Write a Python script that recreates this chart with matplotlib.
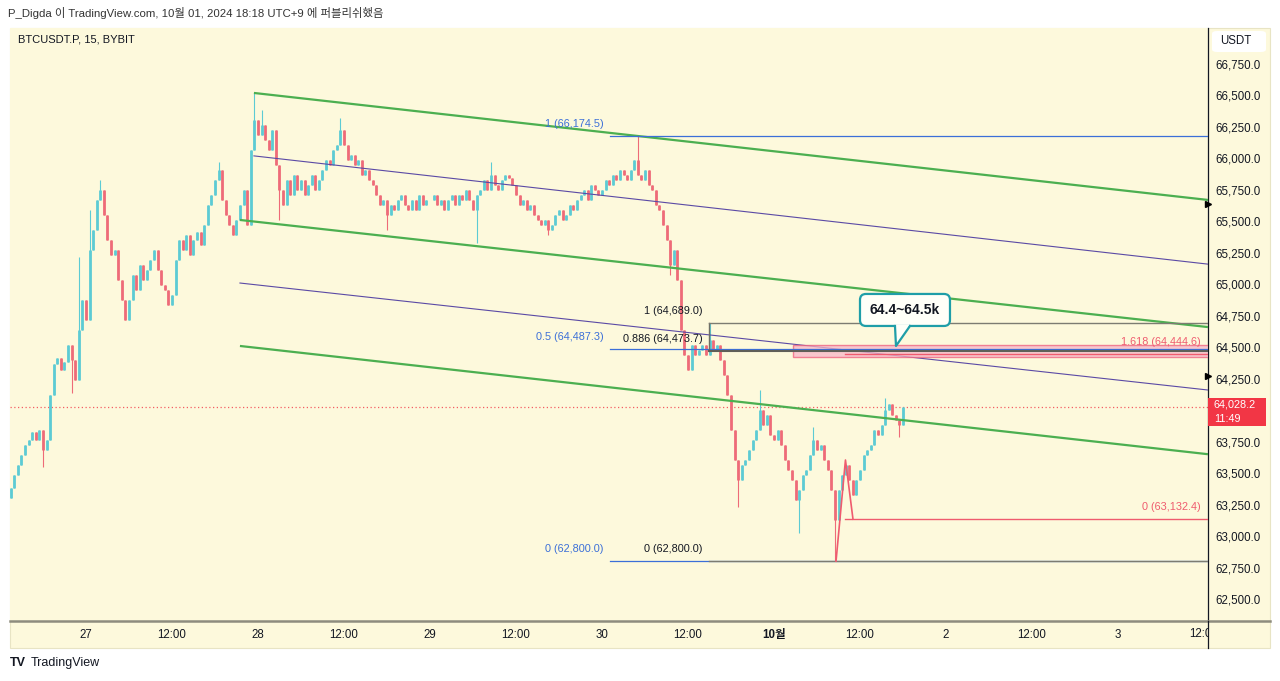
import matplotlib
matplotlib.use("Agg")
import matplotlib.pyplot as plt
import matplotlib.dates as mdates
from matplotlib.patches import Rectangle, FancyBboxPatch, Polygon
from matplotlib.transforms import IdentityTransform
from matplotlib.lines import Line2D
import numpy as np
import pandas as pd

W, H = 1280, 681
plt.rcParams["font.family"] = ["Liberation Sans", "Noto Sans CJK KR", "DejaVu Sans"]

CREAM = "#fdf9dc"
TEXT = "#131722"
UP = "#5ccbd4"
DOWN = "#ee6b78"

header = "P_Digda 이 TradingView.com, 10월 01, 2024 18:18 UTC+9 에 퍼블리쉬했음"
symbol = "BTCUSDT.P, 15, BYBIT"

# ---- price bars (30 min steps) ----
bar_start = "2024-09-26 13:30"
first_open = 63300
close_sep26 = [63380, 63485, 63565, 63645, 63725, 63765, 63825, 63765, 63845, 63685,
               63765, 64120, 64365, 64415, 64320, 64385, 64520, 64400, 64240, 64635,
               64875]
close_sep27 = [64715, 65270, 65430, 65670, 65750, 65550, 65350, 65235, 65270, 65035,
               64875, 64715, 64875, 65075, 64955, 65155, 65035, 65115, 65195, 65270,
               65115, 64995, 64955, 64835, 64915, 65195, 65350, 65270, 65390, 65235,
               65350, 65415, 65310, 65470, 65630, 65710, 65830, 65910, 65670, 65550,
               65470, 65390, 65510, 65630, 65750, 65470, 66065, 66305]
close_sep28 = [66185, 66265, 66145, 66065, 66225, 65950, 65750, 65630, 65830, 65710,
               65870, 65750, 65830, 65710, 65790, 65870, 65750, 65830, 65910, 65990,
               65950, 66065, 66105, 66225, 66105, 65990, 66025, 65950, 65990, 65870,
               65910, 65830, 65790, 65710, 65630, 65670, 65550, 65630, 65590, 65670,
               65710, 65630, 65590, 65670, 65590, 65710, 65630, 65670]
close_sep29 = [65670, 65710, 65630, 65670, 65590, 65670, 65710, 65630, 65710, 65670,
               65750, 65670, 65590, 65710, 65750, 65830, 65750, 65870, 65790, 65750,
               65830, 65870, 65845, 65790, 65710, 65630, 65670, 65590, 65630, 65550,
               65510, 65470, 65510, 65430, 65470, 65550, 65590, 65510, 65550, 65630,
               65590, 65670, 65710, 65750, 65670, 65790, 65750, 65710]
close_sep30 = [65750, 65830, 65790, 65870, 65830, 65910, 65870, 65830, 65910, 65990,
               65870, 65830, 65910, 65790, 65750, 65630, 65590, 65470, 65350, 65155,
               65270, 65035, 64635, 64440, 64320, 64520, 64440, 64480, 64520, 64440,
               64555, 64480, 64520, 64400, 64280, 64120, 63845, 63605, 63445, 63565,
               63605, 63685, 63765, 63845, 64000, 63880, 63960, 63805]
close_oct01 = [63765, 63845, 63725, 63605, 63525, 63445, 63285, 63365, 63485, 63525,
               63645, 63765, 63685, 63725, 63605, 63525, 63365, 63125, 63365, 63485,
               63565, 63445, 63325, 63445, 63525, 63645, 63685, 63725, 63845, 63805,
               63880, 64000, 64050, 63960, 63920, 63880, 64028.2]

wick_times = ["2024-09-26 18:00", "2024-09-26 22:00", "2024-09-26 23:00", "2024-09-27 00:30",
              "2024-09-27 02:00", "2024-09-27 18:30", "2024-09-27 23:30", "2024-09-28 00:30",
              "2024-09-28 03:00", "2024-09-28 11:30", "2024-09-28 18:00", "2024-09-29 06:30",
              "2024-09-29 08:30", "2024-09-29 16:30", "2024-09-30 05:00", "2024-09-30 09:30",
              "2024-09-30 15:00", "2024-09-30 19:00", "2024-09-30 22:00", "2024-10-01 03:30",
              "2024-10-01 05:30", "2024-10-01 08:30", "2024-10-01 15:30", "2024-10-01 17:30"]
wick_prices = [63548, 64137, 65217, 65590, 65829, 65971, 66520, 66385,
               65511, 66321, 65431, 65328, 65971, 65391, 66174.5, 65074,
               64689, 63231, 64160, 63022, 63866, 62800, 64097, 63787]

last_price = 64028.2
countdown = "11:49"

# ---- drawings ----
view_start, view_end = "2024-09-26 13:24", "2024-10-03 12:33"
price_lo, price_hi = 62325, 67036

green_starts = ["2024-09-27 23:26", "2024-09-27 21:29", "2024-09-27 21:29"]
green_start_prices = [66520, 65511, 64510]
green_end_prices = [65670, 64660, 63650]
purple_starts = ["2024-09-27 23:26", "2024-09-27 21:29"]
purple_start_prices = [66020, 65010]
purple_end_prices = [65160, 64160]

blue_fib_start = "2024-09-30 01:07"
blue_levels = ["1", "0.5", "0"]
blue_prices = [66174.5, 64487.3, 62800.0]
gray_fib_start = "2024-09-30 14:56"
gray_levels = ["1", "0.886", "0"]
gray_prices = [64689.0, 64473.7, 62800.0]
red_fib_start = "2024-10-01 09:54"
red_levels = ["1.618", "0"]
red_prices = [64444.6, 63132.4]

zone_start = "2024-10-01 02:39"
zone_low, zone_high = 64420, 64515
zigzag_times = ["2024-10-01 08:39", "2024-10-01 09:58", "2024-10-01 11:01"]
zigzag_prices = [62800, 63604, 63134]

callout_text = "64.4~64.5k"
callout_time, callout_price = "2024-10-01 17:01", 64510

axis_marker_prices = [65640, 64270]

y_ticks = [62500, 62750, 63000, 63250, 63500, 63750, 64000, 64250, 64500,
           64750, 65000, 65250, 65500, 65750, 66000, 66250, 66500, 66750]
hidden_y_tick = 64000  # covered by the last-price label
x_tick_times = ["2024-09-27 00:00", "2024-09-27 12:00", "2024-09-28 00:00", "2024-09-28 12:00",
                "2024-09-29 00:00", "2024-09-29 12:00", "2024-09-30 00:00", "2024-09-30 12:00",
                "2024-10-01 00:00", "2024-10-01 12:00", "2024-10-02 00:00", "2024-10-02 12:00",
                "2024-10-03 00:00"]
x_tick_labels = ["27", "12:00", "28", "12:00", "29", "12:00", "30", "12:00",
                 "10월", "12:00", "2", "12:00", "3"]
clipped_tick_time, clipped_tick_label = "2024-10-03 12:00", "12:00"


def tnum(s):
    return mdates.date2num(pd.Timestamp(s))


def px_rect(x0, y0, x1, y1):
    return [x0 / W, 1 - y1 / H, (x1 - x0) / W, (y1 - y0) / H]


fig = plt.figure(figsize=(W / 100, H / 100), dpi=100)
fig.patch.set_facecolor("white")

# chart panel background (incl. price / time scales)
fig.add_artist(Rectangle((10 / W, 1 - 648 / H), 1260 / W, 620 / H, transform=fig.transFigure,
                         facecolor=CREAM, edgecolor="#e8e4c4", lw=0.8, zorder=0))

ax = fig.add_axes(px_rect(10, 28, 1208, 621))
ax.set_facecolor(CREAM)
ax.set_xlim(tnum(view_start), tnum(view_end))
ax.set_ylim(price_lo, price_hi)

# bars
closes = np.array(close_sep26 + close_sep27 + close_sep28 + close_sep29 + close_sep30 + close_oct01, float)
times = pd.date_range(bar_start, periods=len(closes), freq="30min")
opens = np.concatenate([[first_open], closes[:-1]])
highs = np.maximum(opens, closes)
lows = np.minimum(opens, closes)
for t, p in zip(wick_times, wick_prices):
    i = times.get_loc(pd.Timestamp(t))
    highs[i] = max(highs[i], p)
    lows[i] = min(lows[i], p)
xs = mdates.date2num(times)
cols = [UP if c >= o else DOWN for o, c in zip(opens, closes)]
ax.vlines(xs, lows, highs, colors=cols, lw=0.8, zorder=3)
ax.vlines(xs, opens, closes, colors=cols, lw=2.0, zorder=3)

# last price dotted line
ax.axhline(last_price, color="#f23645", lw=0.9, ls=(0, (1, 2)), alpha=0.8, zorder=2)

# channels
xe = tnum(view_end) + 1
for s, p0, p1 in zip(green_starts, green_start_prices, green_end_prices):
    ax.plot([tnum(s), tnum(view_end)], [p0, p1], color="#4caf50", lw=1.6, zorder=4, solid_capstyle="butt")
for s, p0, p1 in zip(purple_starts, purple_start_prices, purple_end_prices):
    ax.plot([tnum(s), tnum(view_end)], [p0, p1], color="#5b4aa5", lw=0.8, zorder=4)

# zone
zx = tnum(zone_start)
ax.add_patch(Rectangle((zx, zone_low), xe - zx, zone_high - zone_low, facecolor="#f7b7c8",
                       edgecolor="#ee5f7c", lw=1.0, alpha=0.75, zorder=4))

# fib: blue
bx = tnum(blue_fib_start)
for lv, p in zip(blue_levels, blue_prices):
    ax.plot([bx, xe], [p, p], color="#3b6fd8", lw=0.9, zorder=5)
    ax.annotate(f"{lv} ({p:,.1f})", (bx, p), xytext=(-4.5, 5), textcoords="offset points",
                ha="right", va="bottom", fontsize=7.8, color="#3b6fd8", zorder=6)

# fib: gray
gx = tnum(gray_fib_start)
ax.plot([gx, gx], [gray_prices[1], gray_prices[0]], color="#6f6f66", lw=1.0, zorder=5)
for k, (lv, p) in enumerate(zip(gray_levels, gray_prices)):
    ax.plot([gx, xe], [p, p], color="#5f5f58" if k == 1 else "#7c7c72", lw=1.5 if k == 1 else 1.0, zorder=5)
    ax.annotate(f"{lv} ({p:,.1f})", (gx, p), xytext=(-4.5, 5), textcoords="offset points",
                ha="right", va="bottom", fontsize=7.8, color=TEXT, zorder=6)

# fib: red
rx = tnum(red_fib_start)
for lv, p in zip(red_levels, red_prices):
    ax.plot([rx, xe], [p, p], color="#ef5b6e", lw=1.0, zorder=5)
    ax.annotate(f"{lv} ({p:,.1f})", (tnum(view_end), p), xytext=(-5, 5), textcoords="offset points",
                ha="right", va="bottom", fontsize=7.8, color="#ef5b6e", zorder=6)

ax.plot([tnum(t) for t in zigzag_times], zigzag_prices, color="#ef5b6e", lw=1.2, zorder=5)

# axes styling
for side in ("top", "left", "bottom"):
    ax.spines[side].set_visible(False)
ax.spines["right"].set_color(TEXT)
ax.spines["right"].set_linewidth(0.9)
ax.yaxis.tick_right()
ax.set_yticks(y_ticks)
ax.set_yticklabels(["" if v == hidden_y_tick else f"{v:,.1f}" for v in y_ticks])
ax.tick_params(axis="y", length=0, pad=5, labelsize=8.3, labelcolor=TEXT)
ax.set_xticks([tnum(t) for t in x_tick_times])
ax.set_xticklabels(x_tick_labels)
ax.tick_params(axis="x", length=0, pad=6, labelsize=8.3, labelcolor=TEXT)
for lab in ax.get_xticklabels():
    if lab.get_text() == "10월":
        lab.set_fontweight("bold")

# time scale top border, axis line through time scale
fig.add_artist(Line2D([10 / W, 1270 / W], [1 - 621 / H, 1 - 621 / H], transform=fig.transFigure,
                      color="#8e8c7e", lw=1.8, zorder=5))
fig.add_artist(Line2D([1208 / W, 1208 / W], [1 - 648 / H, 1 - 621 / H], transform=fig.transFigure,
                      color=TEXT, lw=0.9, zorder=6))

# clipped last time label (cut by the price scale)
cx, _ = ax.transData.transform((tnum(clipped_tick_time), price_lo))
tl = fig.text(cx / W, 1 - 634 / H, clipped_tick_label, ha="center", va="center", fontsize=8.3,
              color=TEXT)
tl.set_clip_on(True)
tl.set_clip_path(Rectangle((0, 0), 1207.5 / W, 1, transform=fig.transFigure))

# axis markers
for p in axis_marker_prices:
    ax.plot([tnum(view_end)], [p], marker=">", ms=5, color="black", clip_on=False, zorder=8)

# last price label
_, py = ax.transData.transform((tnum(view_end), last_price))
pyf = py / H
fig.add_artist(Rectangle((1208 / W, pyf - 19 / H), 58 / W, 28 / H, transform=fig.transFigure,
                         facecolor="#f23645", edgecolor="none", zorder=9))
fig.text(1214 / W, pyf + 2.5 / H, f"{last_price:,.1f}", ha="left", va="center", fontsize=7.8,
         color="white", zorder=10)
fig.text(1214 / W, pyf - 12.5 / H, countdown, ha="left", va="center", fontsize=7.8,
         color="white", zorder=10)

# USDT box
fig.add_artist(FancyBboxPatch((1212 / W, 1 - 52 / H), 54 / W, 21 / H, transform=fig.transFigure,
                              boxstyle="round,pad=0,rounding_size=0.004", facecolor="white",
                              edgecolor="none", zorder=9))
fig.text(1220 / W, 1 - 41.5 / H, "USDT", ha="left", va="center", fontsize=8.3, color=TEXT, zorder=10)

# callout
tx, ty = ax.transData.transform((tnum(callout_time), callout_price))
teal = "#1f9ea8"
box = FancyBboxPatch((tx - 36, ty + 20), 90, 32, boxstyle="round,pad=0,rounding_size=6",
                     transform=IdentityTransform(), facecolor="#fffff8", edgecolor=teal, lw=1.6, zorder=11)
fig.add_artist(box)
fig.add_artist(Polygon([(tx - 1, ty + 21.5), (tx, ty), (tx + 14, ty + 21.5)], closed=False,
                       transform=IdentityTransform(), facecolor="#fffff8", edgecolor="none", zorder=12))
fig.add_artist(Line2D([tx - 1, tx, tx + 14], [ty + 20, ty, ty + 20], transform=IdentityTransform(),
                      color=teal, lw=1.6, zorder=13))
fig.text((tx + 9) / W, (ty + 36) / H, callout_text, ha="center", va="center", fontsize=10,
         fontweight="bold", color=TEXT, zorder=14)

# texts
fig.text(8 / W, 1 - 13 / H, header, ha="left", va="center", fontsize=8.2, color="#333333")
fig.text(18 / W, 1 - 40 / H, symbol, ha="left", va="center", fontsize=8, color=TEXT)
fig.text(10 / W, 1 - 663 / H, "TV", ha="left", va="center", fontsize=9, fontweight="bold", color=TEXT)
fig.text(31 / W, 1 - 663 / H, "TradingView", ha="left", va="center", fontsize=9, color=TEXT)

fig.savefig("out.png", dpi=100, facecolor=fig.get_facecolor())
